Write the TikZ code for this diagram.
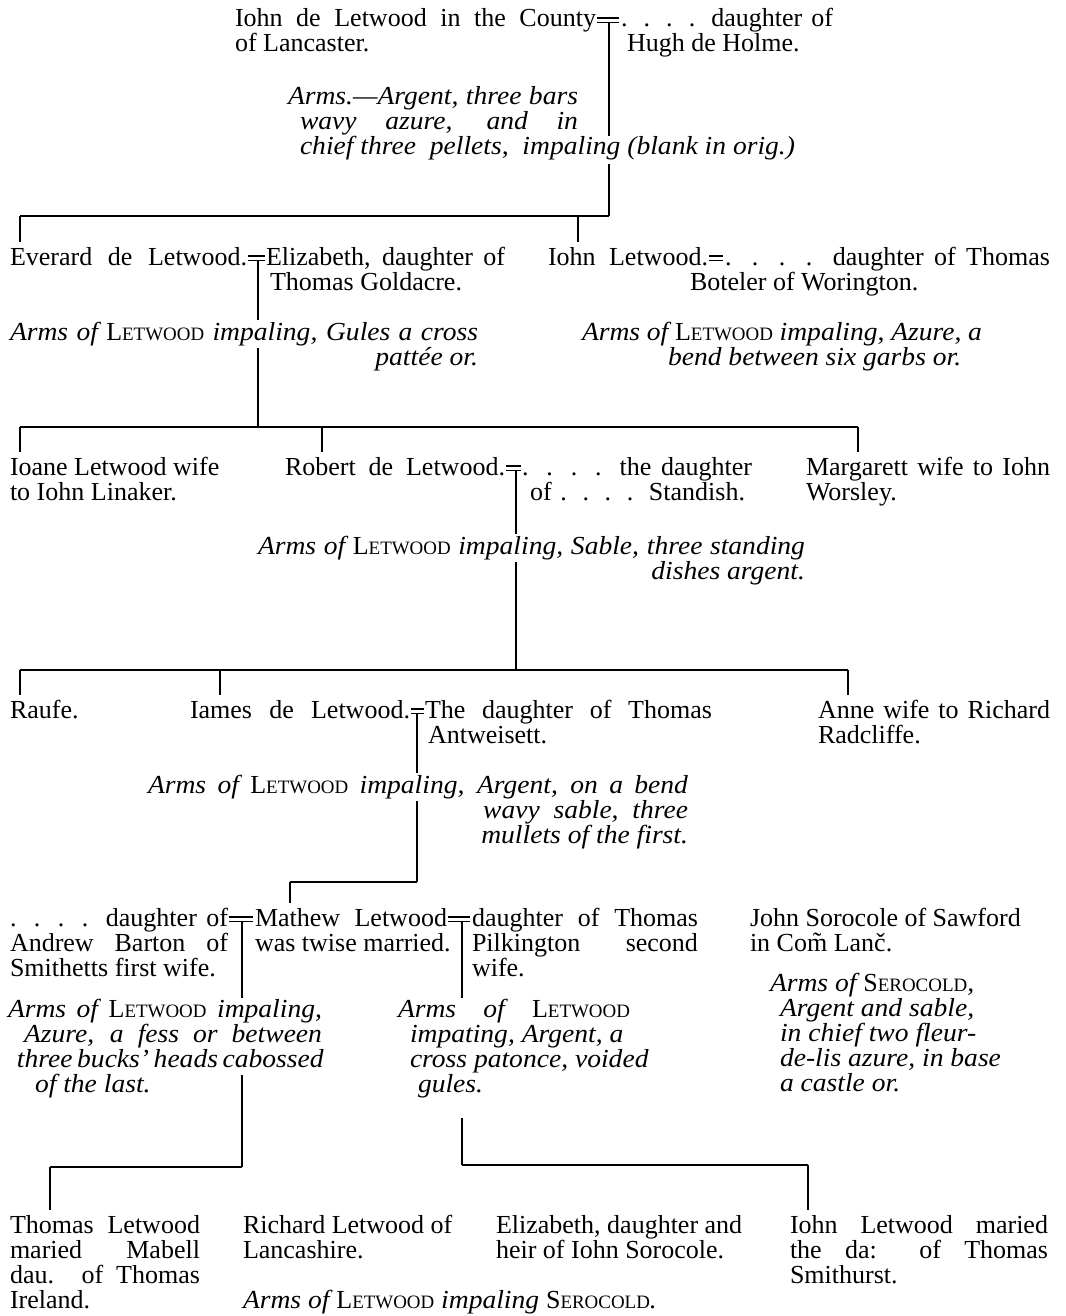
\documentclass[tikz,border=0pt]{standalone}
\usepackage{fontspec}
\setmainfont{Liberation Serif}[ItalicFeatures={FakeStretch=1.06}]
\newlength\pxu \setlength\pxu{0.75pt}
\newcommand\jl[2]{\makebox[#1\pxu][s]{#2}}
\newcommand\rj[2]{\makebox[#1\pxu][r]{#2}}
\newcommand\scsz{\fontsize{14.2}{14.2}\selectfont}
\newcommand\LW{{\upshape L{\scsz ETWOOD}}}
\newcommand\SC{{\upshape S{\scsz EROCOLD}}}
\newcommand\st{\rule{0pt}{15pt}}
\tikzset{
  txt/.style={inner sep=0pt, outer sep=0pt, anchor=north west, align=left,
              font=\fontsize{19.5}{18.75}\selectfont},
  itx/.style={txt, font=\fontsize{19.5}{18.75}\selectfont\itshape},
  ln/.style={line width=0.8pt, black},
  hln/.style={line width=1.2pt, black},
}
\newcommand\Marr[5]{%
  \draw[ln] (#2,#5-9) -- (#3,#5-9);
  \draw[ln] (#2,#5-4.5) -- (#3,#5-4.5);
  \coordinate (#1) at (#4,#5-4.5);}
\begin{document}
\begin{tikzpicture}[x=0.75pt,y=-0.75pt]
\fill[white] (0,0) rectangle (1065,1316);
\useasboundingbox (0,0) rectangle (1065,1316);

% ---------- generation 1
\node[txt] (p1) at (235,7) {\st\jl{361}{Iohn de Letwood in the County}\\of Lancaster.};
\Marr{m1}{597}{619}{609}{27}
\node[txt] (p2) at (621,7) {\st\jl{212}{. . . . daughter of}\\\hspace*{6\pxu}Hugh de Holme.};
\node[itx] (a1) at (288,85) {\st\jl{290}{Arms.—Argent, three bars}\\\hspace*{12\pxu}\jl{278}{wavy azure, and in}\\\hspace*{12\pxu}chief three \ pellets, \ impaling (blank in orig.)};

% ---------- generation 2
\node[txt] (b1) at (10,245) {\st\jl{237}{Everard de Letwood.}};
\Marr{m2}{248}{265}{258}{265}
\node[txt] (b2) at (266,245) {\st\jl{239}{Elizabeth, daughter of}\\\hspace*{4\pxu}Thomas Goldacre.};
\node[txt] (b3) at (548,245) {\st\jl{160}{Iohn Letwood.}};
\draw[ln] (709,256) -- (723,256);
\draw[ln] (709,260.5) -- (723,260.5);
\node[txt] (b4) at (690,245) {\st\hspace*{35\pxu}\jl{325}{. . . . daughter of Thomas}\\Boteler of Worington.};
\node[itx] (a2l) at (10,320) {\st\jl{468}{Arms of \LW\ impaling, Gules a cross}\\\rj{468}{pattée or.}};
\node[itx] (a2r) at (582,320) {\st\jl{400}{Arms of \LW\ impaling, Azure, a}\\\hspace*{86\pxu}bend between six garbs or.};

% ---------- generation 3
\node[txt] (c1) at (10,455) {\st Ioane Letwood wife\\to Iohn Linaker.};
\node[txt] (c2) at (285,455) {\st\jl{220}{Robert de Letwood.}};
\Marr{m3}{506}{521}{516}{475}
\node[txt] (c3) at (522,455) {\st\jl{230}{. . . . the daughter}\\\hspace*{8\pxu}\jl{215}{of . . . . Standish.}};
\node[txt] (c4) at (806,455) {\st\jl{244}{Margarett wife to Iohn}\\Worsley.};
\node[itx] (a3) at (258,534) {\st\jl{547}{Arms of \LW\ impaling, Sable, three standing}\\\rj{547}{dishes argent.}};

% ---------- generation 4
\node[txt] (d1) at (10,698) {\st Raufe.};
\node[txt] (d2) at (190,698) {\st\jl{220}{Iames de Letwood.}};
\Marr{m4}{411}{424}{417}{718}
\node[txt] (d3) at (425,698) {\st\jl{287}{The daughter of Thomas}\\\hspace*{3\pxu}Antweisett.};
\node[txt] (d4) at (818,698) {\st\jl{232}{Anne wife to Richard}\\Radcliffe.};
\node[itx] (a4) at (148,773) {\st\jl{540}{Arms of \LW\ impaling, Argent, on a bend}\\\rj{540}{wavy \ sable, \ three}\\\rj{540}{mullets of the first.}};

% ---------- generation 5
\node[txt] (e1) at (10,906) {\st\jl{218}{. . . . daughter of}\\\jl{218}{Andrew Barton of}\\Smithetts first wife.};
\Marr{m5a}{229}{253}{242}{926}
\node[txt] (e2) at (255,906) {\st\jl{192}{Mathew Letwood}\\was twise married.};
\Marr{m5b}{448}{470}{462}{926}
\node[txt] (e3) at (472,906) {\st\jl{226}{daughter of Thomas}\\\jl{226}{Pilkington second}\\wife.};
\node[txt] (e4) at (750,906) {\st John Sorocole of Sawford\\in Com̃ Lanč.};
\node[itx] (a5l) at (8,997) {\st\jl{314}{Arms of \LW\ impaling,}\\\hspace*{16\pxu}\jl{298}{Azure, a fess or between}\\\hspace*{9\pxu}\jl{305}{three bucks’ heads cabossed}\\\hspace*{27\pxu}of the last.};
\node[itx] (a5m) at (398,997) {\st\jl{232}{Arms of \LW}\\\hspace*{12\pxu}impating, Argent, a\\\hspace*{12\pxu}cross patonce, voided\\\hspace*{20\pxu}gules.};
\node[itx] (a5r) at (770,971) {\st Arms of \SC,\\\hspace*{10\pxu}Argent and sable,\\\hspace*{10\pxu}in chief two fleur-\\\hspace*{10\pxu}de-lis azure, in base\\\hspace*{10\pxu}a castle or.};

% ---------- generation 6
\node[txt] (f1) at (10,1213) {\st\jl{190}{Thomas Letwood}\\\jl{190}{maried Mabell}\\\jl{190}{dau. of Thomas}\\Ireland.};
\node[txt] (f2) at (243,1213) {\st Richard Letwood of\\Lancashire.};
\node[txt] (f3) at (496,1213) {\st Elizabeth, daughter and\\heir of Iohn Sorocole.};
\node[txt] (f4) at (790,1213) {\st\jl{258}{Iohn Letwood maried}\\\jl{258}{the da: of Thomas}\\Smithurst.};
\node[itx] (a6) at (243,1288) {\st Arms of \LW\ impaling \SC.};

% ---------- connectors
\coordinate (h1a) at (20,216); \coordinate (h1b) at (609,216); \coordinate (h1c) at (578,216);
\draw[ln] (m1) -- (609,136);
\draw[ln] (609,164) -- (h1b);
\draw[hln] (h1a) -- (h1b);
\draw[ln,shorten >=2pt] (h1a) -- (h1a |- b1.north);
\draw[ln,shorten >=2pt] (h1c) -- (h1c |- b3.north);

\coordinate (h2a) at (20,427); \coordinate (h2m) at (258,427);
\coordinate (h2b) at (322,427); \coordinate (h2c) at (858,427);
\draw[ln] (m2) -- (258,320);
\draw[ln] (258,348) -- (h2m);
\draw[hln] (h2a) -- (h2c);
\draw[ln,shorten >=2pt] (h2a) -- (h2a |- c1.north);
\draw[ln,shorten >=2pt] (h2b) -- (h2b |- c2.north);
\draw[ln,shorten >=2pt] (h2c) -- (h2c |- c4.north);

\coordinate (h3a) at (20,670); \coordinate (h3m) at (516,670);
\coordinate (h3b) at (220,670); \coordinate (h3c) at (848,670);
\draw[ln] (m3) -- (516,534);
\draw[ln] (516,562) -- (h3m);
\draw[hln] (h3a) -- (h3c);
\draw[ln,shorten >=2pt] (h3a) -- (h3a |- d1.north);
\draw[ln,shorten >=2pt] (h3b) -- (h3b |- d2.north);
\draw[ln,shorten >=2pt] (h3c) -- (h3c |- d4.north);

\coordinate (h4a) at (290,882); \coordinate (h4m) at (417,882);
\draw[ln] (m4) -- (417,773);
\draw[ln] (417,801) -- (h4m);
\draw[hln] (h4a) -- (h4m);
\draw[ln,shorten >=2pt] (h4a) -- (h4a |- e2.north);

\coordinate (h5a) at (50,1167); \coordinate (h5m) at (242,1167);
\draw[ln] (m5a) -- (242,998);
\draw[ln] (242,1075) -- (h5m);
\draw[hln] (h5a) -- (h5m);
\draw[ln,shorten >=2pt] (h5a) -- (h5a |- f1.north);

\coordinate (h5b) at (462,1165); \coordinate (h5c) at (808,1165);
\draw[ln] (m5b) -- (462,998);
\draw[ln] (462,1118) -- (h5b);
\draw[hln] (h5b) -- (h5c);
\draw[ln,shorten >=2pt] (h5c) -- (h5c |- f4.north);
\end{tikzpicture}
\end{document}
